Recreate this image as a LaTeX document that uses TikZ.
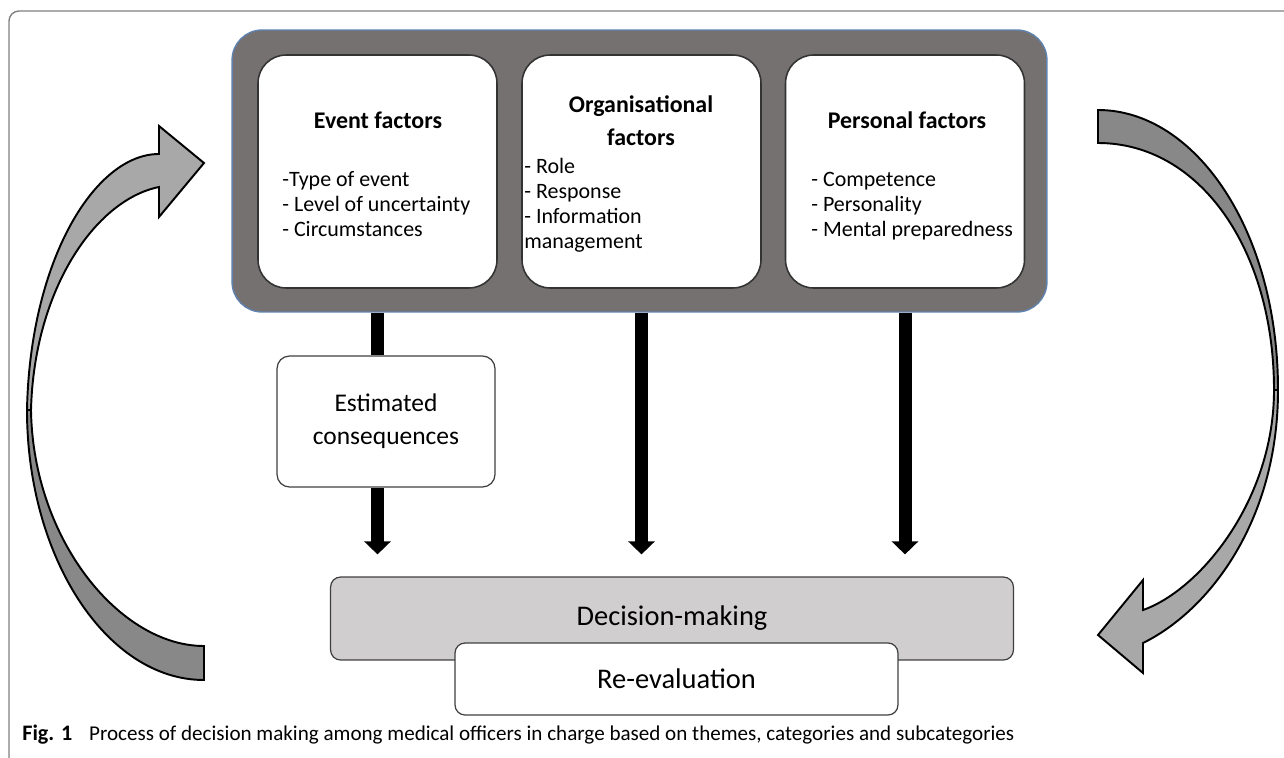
\documentclass[tikz,border=0pt]{standalone}
\usepackage{fontspec}
\setmainfont{Carlito}
\usetikzlibrary{arrows.meta, positioning}

\definecolor{panelgray}{HTML}{767171}
\definecolor{panelline}{HTML}{5F82AE}
\definecolor{decgray}{HTML}{D0CECE}
\definecolor{bandlight}{HTML}{A8A8A8}
\definecolor{banddark}{HTML}{888888}

\begin{document}
\begin{tikzpicture}[x=0.02cm, y=-0.02cm,
    factor/.style={draw=black!80, line width=0.9pt, fill=white, rounded corners=0.56cm,
      minimum width=4.78cm, minimum height=4.66cm},
    ftitle/.style={font=\fontsize{13.6}{18.7}\selectfont\bfseries, align=center, inner sep=0pt},
    fitems/.style={font=\fontsize{12.5}{14.2}\selectfont, align=left, inner sep=0pt, anchor=north west},
    smallbox/.style={draw=black!75, line width=0.7pt, rounded corners=0.25cm},
    link/.style={line width=0.26cm},
    linkarrow/.style={link, -{Triangle[width=0.52cm, length=0.26cm]}, shorten >=0.44cm},
    band/.style={draw=black, line width=1.1pt, line join=miter}]
  \useasboundingbox (0,0) rectangle (1284,757);
  % page frame
  \draw[black!50, line width=0.8pt, rounded corners=0.2cm] (9,11) rectangle (1310,770);

  % factor panel
  \node[draw=panelline, line width=0.8pt, fill=panelgray, rounded corners=0.6cm,
    minimum width=16.3cm, minimum height=5.64cm] (panel) at (639.5,171) {};
  \node[factor] (event) at (377.5,171.5) {};
  \node[factor] (org) at (641.5,171.5) {};
  \node[factor] (pers) at (905,171.5) {};

  \node[ftitle] (eventT) at (378,120) {Event factors};
  \node[ftitle] (orgT) at (641,121) {Organisational\\factors};
  \node[ftitle] (persT) at (907,120) {Personal factors};

  \node[fitems] (eventL) at (282,171) {-Type of event\\- Level of uncertainty\\- Circumstances};
  \node[fitems] (orgL) at (524,158) {- Role\\- Response\\- Information\\management};
  \node[fitems] (persL) at (811,172) {- Competence\\- Personality\\- Mental preparedness};

  % middle and bottom boxes
  \node[smallbox, fill=white, minimum width=4.36cm, minimum height=2.62cm,
    align=center, font=\fontsize{14.5}{18.7}\selectfont] (est) at (386,421.5)
    {Estimated\\consequences};
  \node[smallbox, fill=decgray, minimum width=13.66cm, minimum height=1.66cm,
    rounded corners=0.2cm, font=\fontsize{16.2}{19}\selectfont] (decide) at (672,618.5) {Decision-making};
  \node[smallbox, fill=white, minimum width=8.86cm, minimum height=1.44cm,
    rounded corners=0.2cm, font=\fontsize{16.2}{19}\selectfont] (reeval) at (676.5,679) {Re-evaluation};

  % connectors
  \draw[link] (panel.south -| event) -- (est.north -| event);
  \draw[linkarrow] (est.south -| event) -- (decide.north -| event);
  \draw[linkarrow] (panel.south -| org) -- (decide.north -| org);
  \draw[linkarrow] (panel.south -| pers) -- (decide.north -| pers);

  % curved arrow on the left
  \filldraw[band, fill=banddark] (204,680) .. controls (107,680) and (27,558) .. (27,410)
    -- (31,410) .. controls (33,540) and (120,646) .. (204,646) -- cycle;
  \filldraw[band, fill=bandlight] (27,410) .. controls (30,260) and (95,154) .. (159,154)
    -- (159,126) -- (204,163) -- (159,217) -- (159,187)
    .. controls (95,200) and (34,290) .. (31,410) -- cycle;

  % curved arrow on the right
  \filldraw[band, fill=banddark] (1098,110) .. controls (1195,110) and (1278,230) .. (1278,390)
    -- (1274,390) .. controls (1274,250) and (1200,143) .. (1098,143) -- cycle;
  \filldraw[band, fill=bandlight] (1278,390) .. controls (1278,520) and (1210,610) .. (1143,643)
    -- (1143,673) -- (1098,635) -- (1143,580) -- (1143,610)
    .. controls (1200,590) and (1274,500) .. (1274,390) -- cycle;

  \node[anchor=base west, inner sep=0pt, font=\fontsize{12}{14}\selectfont] (caption) at (22,740)
    {{\fontsize{12.6}{14}\selectfont\textbf{Fig. 1}}\hspace{0.8em}Process of decision making among medical officers in charge based on themes, categories and subcategories};
\end{tikzpicture}
\end{document}
